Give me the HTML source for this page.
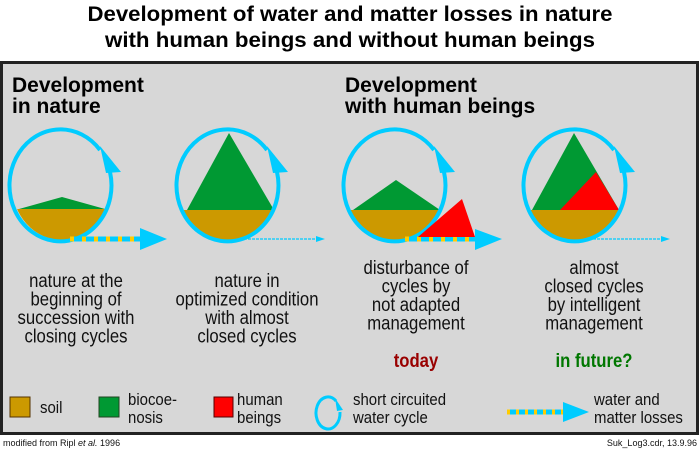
<!DOCTYPE html>
<html><head><meta charset="utf-8"><style>
html,body{margin:0;padding:0;background:#fff;}
svg{display:block;font-family:"Liberation Sans",Arial,sans-serif;}
.b{font-size:19px;fill:#111;}
.l{font-size:17px;fill:#111;}
</style></head><body>
<svg width="700" height="450" viewBox="0 0 700 450">
<rect width="700" height="450" fill="#fff"/>
<g font-weight="bold" font-size="21" fill="#000" text-anchor="middle">
<text x="350" y="21" textLength="525" lengthAdjust="spacingAndGlyphs">Development of water and matter losses in nature</text>
<text x="350" y="47" textLength="490" lengthAdjust="spacingAndGlyphs">with human beings and without human beings</text>
</g>
<rect x="1.5" y="62.5" width="696" height="371" fill="#d7d7d7" stroke="#222" stroke-width="3"/>
<g font-weight="bold" font-size="21" fill="#000">
<text x="12" y="92">Development</text><text x="12" y="113">in nature</text>
<text x="345" y="92">Development</text><text x="345" y="113">with human beings</text>
</g>
<defs>
<clipPath id="c1"><ellipse cx="62" cy="185" rx="50" ry="55"/></clipPath>
<clipPath id="c2"><ellipse cx="228" cy="185" rx="50" ry="55"/></clipPath>
<clipPath id="c3"><ellipse cx="395" cy="185" rx="50" ry="55"/></clipPath>
<clipPath id="c4"><ellipse cx="575" cy="185" rx="50" ry="55"/></clipPath>
</defs>
<!-- panel 1 -->
<rect x="0" y="209" width="140" height="40" fill="#cc9900" clip-path="url(#c1)"/>
<polygon points="19,209 62,197 105,209" fill="#009933"/>
<path d="M100,150 A51,56 0 1 0 110,172" fill="none" stroke="#00ccff" stroke-width="4"/>
<polygon points="100,146 121,172 106,173" fill="#00ccff"/>
<line x1="70" y1="239" x2="142" y2="239" stroke="#00ccff" stroke-width="5"/>
<line x1="70" y1="239" x2="142" y2="239" stroke="#ffcc00" stroke-width="5" stroke-dasharray="4,8"/>
<polygon points="140,228 167,239 140,250" fill="#00ccff"/>
<!-- panel 2 -->
<rect x="170" y="210" width="120" height="40" fill="#cc9900" clip-path="url(#c2)"/>
<polygon points="187,210 229,133 274,210" fill="#009933"/>
<path d="M267,150 A51,56 0 1 0 277,172" fill="none" stroke="#00ccff" stroke-width="4"/>
<polygon points="267,146 288,172 273,173" fill="#00ccff"/>
<line x1="240" y1="239" x2="318" y2="239" stroke="#00ccff" stroke-width="1.2" stroke-dasharray="3,1"/>
<polygon points="316,236 325,239 316,242" fill="#00ccff"/>
<!-- panel 3 -->
<rect x="340" y="210" width="120" height="40" fill="#cc9900" clip-path="url(#c3)"/>
<polygon points="353,210 396,180 440,210" fill="#009933"/>
<path d="M434,150 A51,56 0 1 0 444,172" fill="none" stroke="#00ccff" stroke-width="4"/>
<polygon points="434,146 455,172 440,173" fill="#00ccff"/>
<line x1="405" y1="239" x2="477" y2="239" stroke="#00ccff" stroke-width="5"/>
<line x1="405" y1="239" x2="477" y2="239" stroke="#ffcc00" stroke-width="5" stroke-dasharray="4,8"/>
<polygon points="418,237 462,199 475,237" fill="#ff0000"/>
<polygon points="475,229 502,239 475,250" fill="#00ccff"/>
<!-- panel 4 -->
<rect x="520" y="210" width="120" height="40" fill="#cc9900" clip-path="url(#c4)"/>
<polygon points="532,210 574,133 619,210" fill="#009933"/>
<polygon points="560,210 596,172 619,210" fill="#ff0000"/>
<path d="M614,150 A51,56 0 1 0 624,172" fill="none" stroke="#00ccff" stroke-width="4"/>
<polygon points="614,146 635,172 620,173" fill="#00ccff"/>
<line x1="585" y1="239" x2="663" y2="239" stroke="#00ccff" stroke-width="1.2" stroke-dasharray="3,1"/>
<polygon points="661,236 670,239 661,242" fill="#00ccff"/>
<!-- descriptions -->
<g class="b" text-anchor="middle">
<g transform="translate(76,0) scale(0.88,1)">
<text x="0" y="287">nature at the</text><text x="0" y="305.5">beginning of</text><text x="0" y="324">succession with</text><text x="0" y="342.5">closing cycles</text></g>
<g transform="translate(247,0) scale(0.88,1)">
<text x="0" y="287">nature in</text><text x="0" y="305.5">optimized condition</text><text x="0" y="324">with almost</text><text x="0" y="342.5">closed cycles</text></g>
<g transform="translate(416,0) scale(0.88,1)">
<text x="0" y="274">disturbance of</text><text x="0" y="292.5">cycles by</text><text x="0" y="311">not adapted</text><text x="0" y="329.5">management</text>
<text x="0" y="367" font-weight="bold" fill="#990000">today</text></g>
<g transform="translate(594,0) scale(0.88,1)">
<text x="0" y="274">almost</text><text x="0" y="292.5">closed cycles</text><text x="0" y="311">by intelligent</text><text x="0" y="329.5">management</text>
<text x="0" y="367" font-weight="bold" fill="#007700">in future?</text></g>
</g>
<!-- legend -->
<rect x="10" y="397" width="20" height="20" fill="#cc9900" stroke="#553300" stroke-width="1"/>
<rect x="99" y="397" width="20" height="20" fill="#009933" stroke="#224422" stroke-width="1"/>
<rect x="214" y="397" width="19" height="20" fill="#ff0000" stroke="#550000" stroke-width="1"/>
<g class="l">
<g transform="translate(40,0) scale(0.88,1)"><text x="0" y="413">soil</text></g>
<g transform="translate(128,0) scale(0.88,1)"><text x="0" y="405">biocoe-</text><text x="0" y="423">nosis</text></g>
<g transform="translate(237,0) scale(0.88,1)"><text x="0" y="405">human</text><text x="0" y="423">beings</text></g>
<g transform="translate(353,0) scale(0.88,1)"><text x="0" y="405">short circuited</text><text x="0" y="423">water cycle</text></g>
<g transform="translate(594,0) scale(0.88,1)"><text x="0" y="405">water and</text><text x="0" y="423">matter losses</text></g>
</g>
<path d="M336,401 A12,16 0 1 0 340,412" fill="none" stroke="#00ccff" stroke-width="3"/>
<polygon points="335,398 343,410 337,411" fill="#00ccff"/>
<line x1="507" y1="412" x2="566" y2="412" stroke="#00ccff" stroke-width="5"/>
<line x1="507" y1="412" x2="566" y2="412" stroke="#ffcc00" stroke-width="5" stroke-dasharray="3,6"/>
<polygon points="563,402 589,412 563,422" fill="#00ccff"/>
<!-- footer -->
<text x="3" y="446" font-size="9" fill="#111">modified from Ripl <tspan font-style="italic">et al.</tspan> 1996</text>
<text x="697" y="446" font-size="9" fill="#111" text-anchor="end">Suk_Log3.cdr, 13.9.96</text>
</svg>
</body></html>
